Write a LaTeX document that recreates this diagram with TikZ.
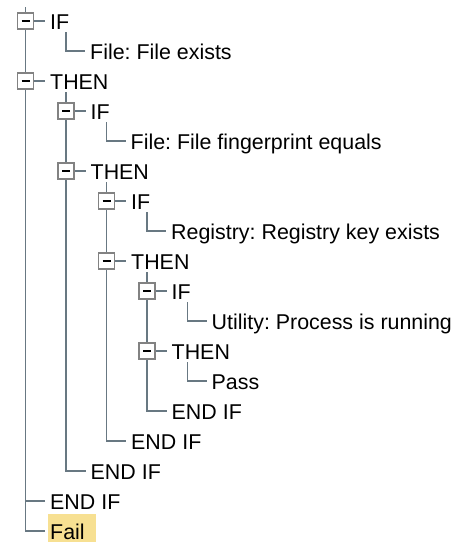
\documentclass[tikz,border=0pt]{standalone}
\usepackage{fontspec}
\setmainfont{Liberation Sans}
\frenchspacing
\usetikzlibrary{backgrounds}
\definecolor{treeline}{RGB}{104,120,130}
\definecolor{boxgray}{RGB}{130,130,130}
\definecolor{hilite}{RGB}{247,224,146}
\begin{document}
\begin{tikzpicture}[x=1pt,y=-1pt,
  conn/.style={draw=treeline,line width=1.6pt},
  tbox/.style={draw=boxgray,fill=white,line width=1.5pt,minimum size=16pt,inner sep=0pt,
    path picture={\draw[black,line width=2pt] ([xshift=-4pt]path picture bounding box.center) -- ([xshift=4pt]path picture bounding box.center);}},
  lbl/.style={anchor=west,inner xsep=5pt,inner ysep=0pt,text height=16pt,text depth=0pt,font=\fontsize{21.4}{26}\selectfont}]
\useasboundingbox (0,0) rectangle (457,555);
% rows every 30px, levels every 40.5px
\node[lbl] (t1) at (45,21) {IF};
\node[lbl] (t2) at (85,51) {File: File exists};
\node[lbl] (t3) at (45,81) {THEN};
\node[lbl] (t4) at (85.5,111) {IF};
\node[lbl] (t5) at (125.5,141) {File: File fingerprint equals};
\node[lbl] (t6) at (85.5,171) {THEN};
\node[lbl] (t7) at (126,201) {IF};
\node[lbl] (t8) at (166,231) {Registry: Registry key exists};
\node[lbl] (t9) at (126,261) {THEN};
\node[lbl] (t10) at (166.5,291) {IF};
\node[lbl] (t11) at (206.5,321) {Utility: Process is running};
\node[lbl] (t12) at (166.5,351) {THEN};
\node[lbl] (t13) at (206.5,381) {Pass};
\node[lbl] (t14) at (166.5,411) {END IF};
\node[lbl] (t15) at (126,441) {END IF};
\node[lbl] (t16) at (85.5,471) {END IF};
\node[lbl] (t17) at (45,501) {END IF};
\node[lbl] (fail) at (45,531) {Fail};
% expand boxes
\node[tbox] (b1) at (25.5,21) {};
\node[tbox] (b3) at (25.5,81) {};
\node[tbox] (b4) at (66,111) {};
\node[tbox] (b6) at (66,171) {};
\node[tbox] (b7) at (106.5,201) {};
\node[tbox] (b9) at (106.5,261) {};
\node[tbox] (b10) at (147,291) {};
\node[tbox] (b12) at (147,351) {};
% line tops
\coordinate (v0) at (25.5,7);
\coordinate (v2) at (66,32);
\coordinate (v16) at (66,92);
\coordinate (v5) at (106.5,122);
\coordinate (v15) at (106.5,182);
\coordinate (v8) at (147,212);
\coordinate (v14) at (147,272);
\coordinate (v11) at (187.5,302);
\coordinate (v13) at (187.5,362);
\begin{scope}[on background layer]
\fill[hilite] (fail.west) ++(3,-17) rectangle ++(48,28);
\draw[conn] (v0) |- (fail.west);
\draw[conn] (t17.west) -| (v0);
\draw[conn] (v2) |- (t2.west);
\draw[conn] (v16) |- (t16.west);
\draw[conn] (v5) |- (t5.west);
\draw[conn] (v15) |- (t15.west);
\draw[conn] (v8) |- (t8.west);
\draw[conn] (v14) |- (t14.west);
\draw[conn] (v11) |- (t11.west);
\draw[conn] (v13) |- (t13.west);
\foreach \n in {1,3,4,6,7,9,10,12}
  \draw[conn] (b\n) -- (t\n.west);
\end{scope}
\end{tikzpicture}
\end{document}
